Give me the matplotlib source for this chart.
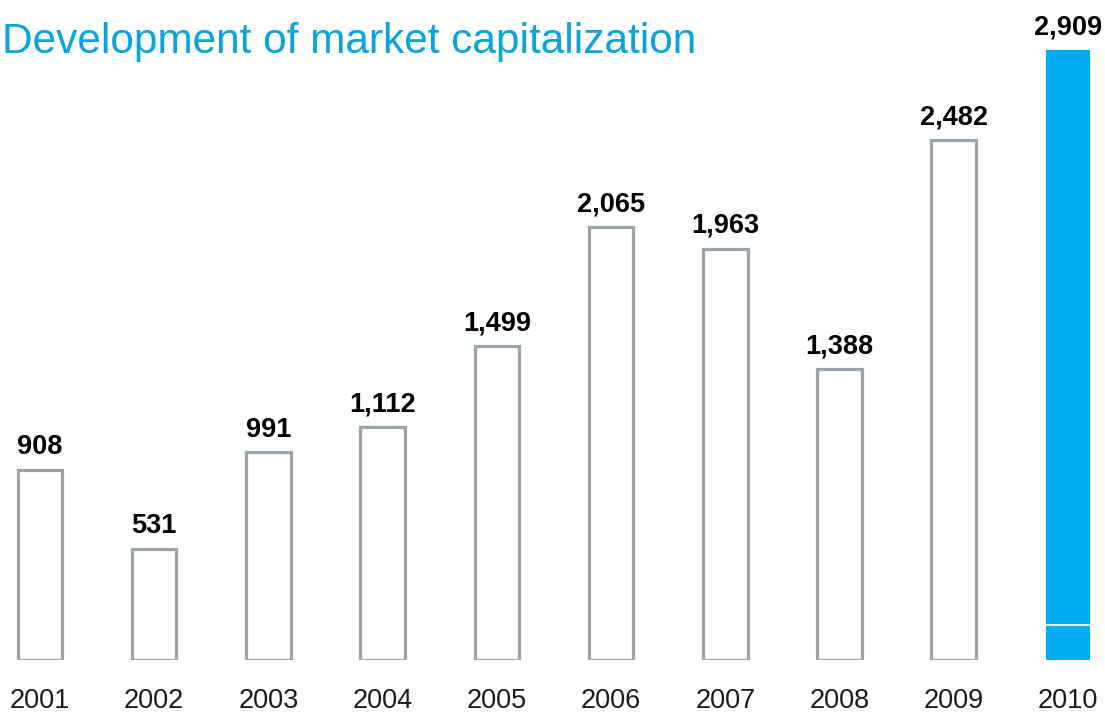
import matplotlib
matplotlib.use("Agg")
import matplotlib.pyplot as plt

years = ["2001", "2002", "2003", "2004", "2005", "2006", "2007", "2008", "2009", "2010"]
values = [908, 531, 991, 1112, 1499, 2065, 1963, 1388, 2482, 2909]
labels = ["908", "531", "991", "1,112", "1,499", "2,065", "1,963", "1,388", "2,482", "2,909"]
# 2010 bar is drawn as two stacked pieces (a thin white divider near the base)
base_2010 = 167

plt.rcParams['font.family'] = ['Liberation Sans', 'DejaVu Sans']

W, H = 1105, 713
fig = plt.figure(figsize=(W / 100, H / 100), dpi=100)
ax = fig.add_axes([0, 53 / H, 1, 660 / H])
ax.set_xlim(-0.35, 9.324)
ax.set_ylim(0, 3150)
ax.axis('off')

grey = "#9ba4aa"
blue = "#00aeef"
width = 0.39

for i, (yr, v) in enumerate(zip(years, values)):
    if i < len(years) - 1:
        ax.bar(i, v, width=width, facecolor="white", edgecolor=grey, linewidth=2.3)
    else:
        ax.bar(i, base_2010, width=width, facecolor=blue, edgecolor="none")
        ax.bar(i, v - base_2010, bottom=base_2010, width=width, facecolor=blue, edgecolor="none")
        ax.plot([i - width / 2, i + width / 2], [base_2010, base_2010], color="white", lw=1.2)
    ax.annotate(labels[i], (i, v), xytext=(0, 7), textcoords="offset points",
                ha="center", va="bottom", fontsize=19.5, fontweight="bold", color="black")
    ax.annotate(yr, (i, 0), xytext=(0, -20), textcoords="offset points",
                ha="center", va="top", fontsize=19.5, color="#1a1a1a")

fig.text(2 / W, 1 - 42 / H, "Development of market capitalization", fontsize=30.5,
         color="#0aa3e0", ha="left", va="center")

fig.savefig("out.png", dpi=100)
